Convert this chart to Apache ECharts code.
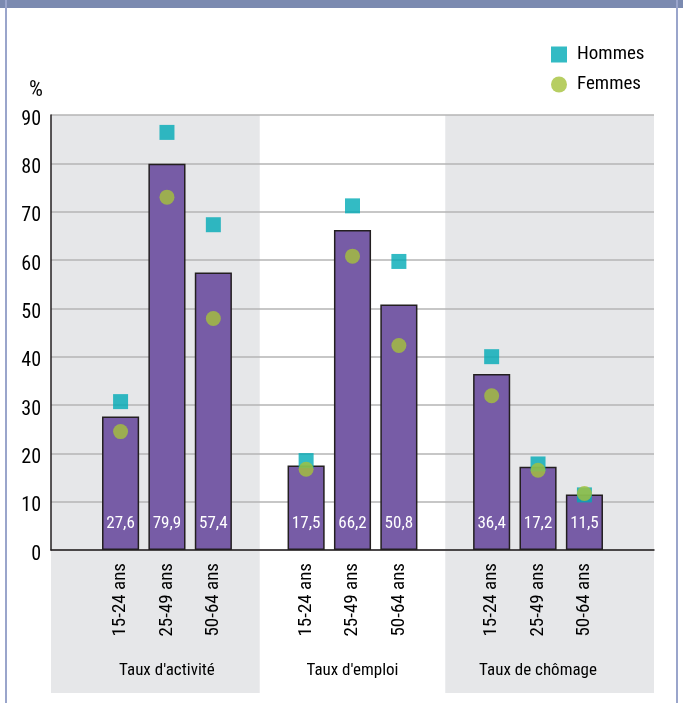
<!DOCTYPE html>
<html>
<head>
<meta charset="utf-8">
<script src="https://cdn.jsdelivr.net/npm/echarts@6/dist/echarts.min.js"></script>
<style>
html,body{margin:0;padding:0;background:#fff;}
#chart{width:683px;height:703px;}
</style>
</head>
<body>
<div id="chart"></div>
<script>
// ---- data ----
var groups = ["Taux d'activité", "Taux d'emploi", "Taux de chômage"];
var ageGroups = ['15-24 ans', '25-49 ans', '50-64 ans'];
var ensemble = [27.6, 79.9, 57.4, 17.5, 66.2, 50.8, 36.4, 17.2, 11.5];
var hommes   = [30.7, 86.4, 67.3, 18.5, 71.2, 59.7, 40.0, 17.8, 11.4];
var femmes   = [24.5, 73.0, 47.9, 16.7, 60.8, 42.3, 31.9, 16.5, 11.7];
var shadedGroups = [0, 2];
var yTicks = [0, 10, 20, 30, 40, 50, 60, 70, 80, 90];

// ---- build slotted category axis (spacer slot between groups) ----
var categories = [''];
var groupLabelAt = {};
var slotOfValue = [];
groups.forEach(function (g, gi) {
  ageGroups.forEach(function (a, ai) {
    categories.push(a);
    slotOfValue.push(categories.length - 1);
    if (ai === 1) groupLabelAt[categories.length - 1] = g;
  });
  categories.push('');
});
function slotted(arr) {
  var out = categories.map(function () { return '-'; });
  arr.forEach(function (v, i) { out[slotOfValue[i]] = v; });
  return out;
}
var nSlots = categories.length;
var bands = shadedGroups.map(function (g) {
  var start = g === 0 ? 0 : 4 * g + 0.5;
  var end = g === groups.length - 1 ? nSlots : 4 * g + 4.5;
  return [{ xAxis: start, yAxis: 0 }, { xAxis: end, yAxis: 1 }];
});

var FONT = '"Roboto Condensed", "Liberation Sans", sans-serif';
var TXT = '#000000';
var FW = 450;

var chart = echarts.init(document.getElementById('chart'));
chart.setOption({
  animation: false,
  textStyle: { fontFamily: FONT, color: TXT, fontWeight: FW },
  title: {
    text: '%', left: 24, top: 74,
    textStyle: { fontFamily: FONT, fontSize: 22, fontWeight: FW, color: TXT }
  },
  legend: {
    orient: 'vertical', left: 546, top: 40,
    itemWidth: 16, itemHeight: 16, itemGap: 11,
    textStyle: { fontFamily: FONT, fontSize: 19, fontWeight: FW, color: TXT, padding: [0, 0, 0, 5] },
    data: [{ name: 'Hommes', icon: 'rect' }, { name: 'Femmes', icon: 'circle' }]
  },
  graphic: [
    { type: 'rect', left: 0, top: 0, shape: { width: 683, height: 8 }, style: { fill: '#7B8AB0' }, z: 10 },
    { type: 'rect', left: 5, top: 0, shape: { width: 2, height: 703 }, style: { fill: '#9AA5CB' }, z: 10 },
    { type: 'rect', left: 676, top: 0, shape: { width: 2, height: 703 }, style: { fill: '#9AA5CB' }, z: 10 }
  ],
  grid: [
    { left: 51, right: 29, top: 115, bottom: 153 },
    { left: 51, right: 29, top: 115, bottom: 10 }
  ],
  xAxis: [
    {
      type: 'category', gridIndex: 0, data: categories,
      axisLine: { lineStyle: { color: '#231F20', width: 1.5 } },
      axisTick: { show: false },
      axisLabel: { interval: 0, rotate: 90, margin: 13, fontSize: 19, fontWeight: FW, color: TXT, fontFamily: FONT }
    },
    {
      type: 'category', gridIndex: 0, position: 'bottom', data: categories,
      axisLine: { show: false }, axisTick: { show: false },
      axisLabel: {
        interval: 0, margin: 112, fontSize: 17, fontWeight: FW, color: TXT, fontFamily: FONT,
        formatter: function (v, i) { return groupLabelAt[i] || ''; }
      }
    },
    { type: 'value', gridIndex: 1, min: 0, max: nSlots, show: false }
  ],
  yAxis: [
    {
      type: 'value', gridIndex: 0, min: yTicks[0], max: yTicks[yTicks.length - 1], interval: 10,
      axisLine: { show: true, lineStyle: { color: '#231F20', width: 1.5 } },
      axisTick: { show: false },
      splitLine: { lineStyle: { color: '#B4B4B4', width: 1.5 } },
      axisLabel: { margin: 10, fontSize: 20, fontWeight: FW, color: TXT, fontFamily: FONT,
        verticalAlign: 'top', lineHeight: 9 }
    },
    { type: 'value', gridIndex: 1, min: 0, max: 1, show: false }
  ],
  series: [
    {
      type: 'scatter', xAxisIndex: 2, yAxisIndex: 1, data: [], z: -1, silent: true,
      markArea: { z: -1, silent: true, itemStyle: { color: '#E6E7E9' }, data: bands }
    },
    {
      name: 'Ensemble', type: 'bar', xAxisIndex: 0, yAxisIndex: 0,
      data: slotted(ensemble), barCategoryGap: '20%',
      itemStyle: { color: '#775CA6', borderColor: '#231F20', borderWidth: 1.5 },
      label: {
        show: true, position: 'insideBottom', distance: 18, color: '#fff',
        fontSize: 17, fontWeight: FW, fontFamily: FONT,
        formatter: function (p) { return String(p.value).replace('.', ','); }
      }
    },
    {
      name: 'Hommes', type: 'scatter', xAxisIndex: 0, yAxisIndex: 0,
      data: slotted(hommes), symbol: 'rect', symbolSize: 15,
      itemStyle: { color: '#00AAB5' }, z: 3
    },
    {
      name: 'Femmes', type: 'scatter', xAxisIndex: 0, yAxisIndex: 0,
      data: slotted(femmes), symbol: 'circle', symbolSize: 15,
      itemStyle: { color: '#A5C23B' }, z: 4
    }
  ]
});
</script>
</body>
</html>
